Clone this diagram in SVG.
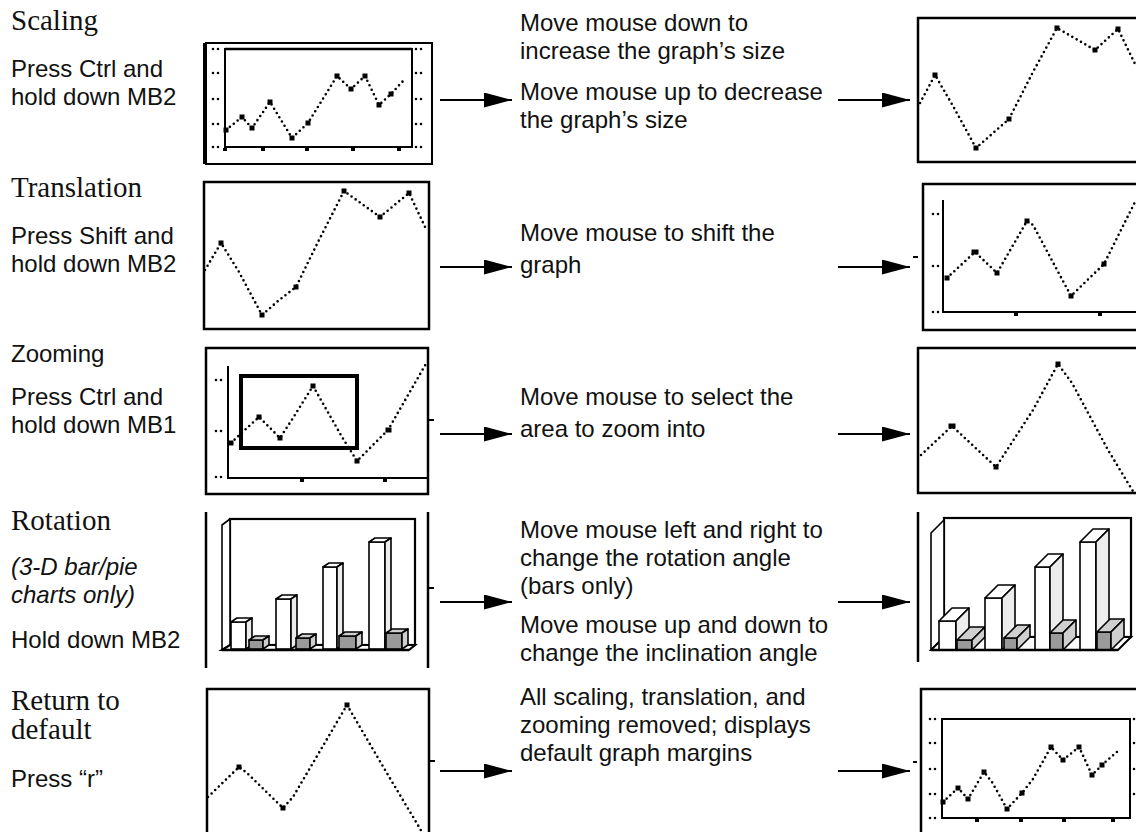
<svg xmlns="http://www.w3.org/2000/svg" width="1136" height="832" viewBox="0 0 1136 832">
<style>
.ttl{font-family:"Liberation Serif","Times New Roman",serif;font-size:29px;fill:#111}
.txt{font-family:"Liberation Sans",Arial,sans-serif;font-size:24px;fill:#111}
.it{font-style:italic}
.fr{fill:none;stroke:#000;stroke-width:2.5}
.ax{fill:none;stroke:#000;stroke-width:2}
.dots{fill:none;stroke:#000;stroke-width:2.6;stroke-dasharray:0 5;stroke-linecap:round;stroke-linejoin:round}
.tk{fill:none;stroke:#000;stroke-width:2.6;stroke-dasharray:0 5;stroke-linecap:round}
.mk{fill:#000}
.w{fill:#fff;stroke:#000;stroke-width:1.6;stroke-linejoin:round}
.ws{fill:#ececec;stroke:#000;stroke-width:1.6;stroke-linejoin:round}
.g{fill:#9a9a9a;stroke:#000;stroke-width:1.6;stroke-linejoin:round}
.gt{fill:#cfcfcf;stroke:#000;stroke-width:1.6;stroke-linejoin:round}
.conn{stroke:#000;stroke-width:2;fill:none}
</style>
<defs>
<marker id="ah" markerUnits="userSpaceOnUse" markerWidth="30" markerHeight="16" refX="28" refY="7.5" orient="auto">
<path d="M0,0 L28,7.5 L0,15 z" fill="#000"/>
</marker>
</defs>

<!-- Row 1: Scaling -->
<g id="scaling-label">
<text class="ttl" x="11" y="30">Scaling</text>
<text class="txt" x="11" y="77">Press Ctrl and</text>
<text class="txt" x="11" y="105">hold down MB2</text>
</g>
<g id="scaling-before">
<line x1="205" y1="43" x2="205" y2="164" stroke="#000" stroke-width="4"/>
<polyline class="ax" points="205,43 432,43 432,164 205,164"/>
<rect class="ax" x="225" y="49" width="187" height="98"/>
<line x1="225" y1="49" x2="412" y2="49" stroke="#000" stroke-width="2.5"/>
<path class="tk" d="M213,49h8M213,73h8M213,99h8M213,124h8M213,147h8M416,49h8M416,73h8M416,99h8M416,124h8M416,147h8"/>
<path class="mk" d="M223,148h4v3h-4zM261,148h4v3h-4zM305,148h4v3h-4zM351,148h4v3h-4zM397,148h4v3h-4z"/>
<polyline class="dots" points="226,130 242,117 252,128 270,102 292,138 308,123 337,76 351,89 365,76 379,105 391,94 404,80"/>
<path class="mk" d="M223.5,127.5h5v5h-5zM239.5,114.5h5v5h-5zM249.5,125.5h5v5h-5zM267.5,99.5h5v5h-5zM289.5,135.5h5v5h-5zM305.5,120.5h5v5h-5zM334.5,73.5h5v5h-5zM348.5,86.5h5v5h-5zM362.5,73.5h5v5h-5zM376.5,102.5h5v5h-5zM388.5,91.5h5v5h-5z"/>
</g>
<g id="scaling-desc">
<text class="txt" x="520" y="31">Move mouse down to</text>
<text class="txt" x="520" y="59">increase the graph’s size</text>
<text class="txt" x="520" y="100">Move mouse up to decrease</text>
<text class="txt" x="520" y="128">the graph’s size</text>
</g>
<g id="scaling-after">
<polyline class="fr" points="1140,18 918,18 918,162 1140,162"/>
<polyline class="dots" points="920,103 935,75 953,106 976,148 992,134 1009,119 1033,72 1057,28 1095,50 1118,29 1136,66"/>
<path class="mk" d="M932.5,72.5h5v5h-5zM973.5,145.5h5v5h-5zM1006.5,116.5h5v5h-5zM1054.5,25.5h5v5h-5zM1092.5,47.5h5v5h-5zM1115.5,26.5h5v5h-5z"/>
</g>

<!-- Row 2: Translation -->
<g id="translation-label">
<text class="ttl" x="11" y="197">Translation</text>
<text class="txt" x="11" y="244">Press Shift and</text>
<text class="txt" x="11" y="272">hold down MB2</text>
</g>
<g id="translation-before">
<rect class="fr" x="204" y="182" width="225" height="147"/>
<polyline class="dots" points="205,270 221,243 239,272 262,315 278,301 296,287 318,242 344,191 380,217 409,193 427,231"/>
<path class="mk" d="M218.5,240.5h5v5h-5zM259.5,312.5h5v5h-5zM293.5,284.5h5v5h-5zM341.5,188.5h5v5h-5zM377.5,214.5h5v5h-5zM406.5,190.5h5v5h-5z"/>
</g>
<g id="translation-desc">
<text class="txt" x="520" y="241">Move mouse to shift the</text>
<text class="txt" x="520" y="273">graph</text>
</g>
<g id="translation-after">
<polyline class="fr" points="1140,184 923,184 923,330 1140,330"/>
<line x1="913" y1="257" x2="918" y2="257" stroke="#000" stroke-width="2"/>
<polyline class="ax" points="943,200 943,312 1140,312"/>
<path class="tk" d="M933,214h8M933,266h8M933,312h8"/>
<path class="mk" d="M1014,313h4v3h-4zM1098,313h4v3h-4z"/>
<polyline class="dots" points="947,278 975,252 997,273 1027,221 1033,225 1071,296 1104,264 1136,200"/>
<path class="mk" d="M944.5,275.5h5v5h-5zM971.5,249.5h7v5h-7zM994.5,270.5h5v5h-5zM1024.5,218.5h5v5h-5zM1068.5,293.5h5v5h-5zM1101.5,261.5h5v5h-5z"/>
</g>

<!-- Row 3: Zooming -->
<g id="zooming-label">
<text class="txt" x="11" y="362">Zooming</text>
<text class="txt" x="11" y="405">Press Ctrl and</text>
<text class="txt" x="11" y="433">hold down MB1</text>
</g>
<g id="zooming-before">
<rect class="fr" x="206" y="348" width="222" height="146"/>
<line x1="428" y1="420" x2="434" y2="420" stroke="#000" stroke-width="2"/>
<polyline class="ax" points="228,366 228,478 428,478"/>
<path class="tk" d="M216,380h8M216,431h8M216,477h8"/>
<path class="mk" d="M300,479h4v3h-4zM383,479h4v3h-4z"/>
<polyline class="dots" points="231,443 247,428 259,417 280,438 293,418 313,386 342,437 357,461 388,430 427,362"/>
<path class="mk" d="M228.5,440.5h5v5h-5zM256.5,414.5h5v5h-5zM277.5,435.5h5v5h-5zM310.5,383.5h5v5h-5zM354.5,458.5h5v5h-5zM385.5,427.5h6v5h-6z"/>
<rect x="241" y="376" width="116" height="72" fill="none" stroke="#000" stroke-width="4"/>
</g>
<g id="zooming-desc">
<text class="txt" x="520" y="405">Move mouse to select the</text>
<text class="txt" x="520" y="437">area to zoom into</text>
</g>
<g id="zooming-after">
<polyline class="fr" points="1140,348 918,348 918,493 1140,493"/>
<polyline class="dots" points="921,455 952,426 996,467 1033,410 1058,364 1072,383 1108,450 1134,493"/>
<path class="mk" d="M948.5,423.5h7v5h-7zM993.5,464.5h5v5h-5zM1055.5,361.5h5v5h-5z"/>
</g>

<!-- Row 4: Rotation -->
<g id="rotation-label">
<text class="ttl" x="11" y="530">Rotation</text>
<text class="txt it" x="11" y="575">(3-D bar/pie</text>
<text class="txt it" x="11" y="603">charts only)</text>
<text class="txt" x="11" y="648">Hold down MB2</text>
</g>
<g id="rotation-before">
<line x1="206" y1="512" x2="206" y2="668" stroke="#000" stroke-width="2.5"/>
<line x1="428" y1="512" x2="428" y2="668" stroke="#000" stroke-width="2.5"/>
<line x1="428" y1="588" x2="434" y2="588" stroke="#000" stroke-width="2"/>
<rect x="230" y="519" width="185" height="126" fill="#fff" stroke="#000" stroke-width="2.2"/>
<polygon class="w" points="222,525 230,519 230,645 222,650"/>
<polygon points="222,650 230,645 415,645 409,650" fill="#fff" stroke="#000" stroke-width="2.2"/>
<rect class="w" x="231" y="622" width="15" height="27"/><polygon class="w" points="231,622 237,618 252,618 246,622"/><polygon class="ws" points="246,622 252,618 252,645 246,649"/>
<rect class="g" x="249" y="640" width="14" height="9"/><polygon class="gt" points="249,640 255,636 269,636 263,640"/><polygon class="gt" points="263,640 269,636 269,645 263,649"/>
<rect class="w" x="276" y="599" width="15" height="50"/><polygon class="w" points="276,599 282,595 297,595 291,599"/><polygon class="ws" points="291,599 297,595 297,645 291,649"/>
<rect class="g" x="296" y="638" width="14" height="11"/><polygon class="gt" points="296,638 302,634 316,634 310,638"/><polygon class="gt" points="310,638 316,634 316,645 310,649"/>
<rect class="w" x="323" y="567" width="14" height="82"/><polygon class="w" points="323,567 329,563 343,563 337,567"/><polygon class="ws" points="337,567 343,563 343,645 337,649"/>
<rect class="g" x="339" y="636" width="17" height="13"/><polygon class="gt" points="339,636 345,632 362,632 356,636"/><polygon class="gt" points="356,636 362,632 362,645 356,649"/>
<rect class="w" x="369" y="542" width="16" height="107"/><polygon class="w" points="369,542 375,538 391,538 385,542"/><polygon class="ws" points="385,542 391,538 391,645 385,649"/>
<rect class="g" x="386" y="633" width="16" height="16"/><polygon class="gt" points="386,633 392,629 408,629 402,633"/><polygon class="gt" points="402,633 408,629 408,645 402,649"/>
<line x1="222" y1="650" x2="409" y2="650" stroke="#000" stroke-width="2.5"/>
</g>
<g id="rotation-desc">
<text class="txt" x="520" y="538">Move mouse left and right to</text>
<text class="txt" x="520" y="566">change the rotation angle</text>
<text class="txt" x="520" y="594">(bars only)</text>
<text class="txt" x="520" y="633">Move mouse up and down to</text>
<text class="txt" x="520" y="661">change the inclination angle</text>
</g>
<g id="rotation-after">
<line x1="918" y1="512" x2="918" y2="662" stroke="#000" stroke-width="2.5"/>
<rect x="944" y="518" width="187" height="119" fill="#fff" stroke="#000" stroke-width="2.2"/>
<polygon class="w" points="931,533 944,520 944,637 931,650"/>
<polygon points="931,650 944,637 1131,637 1118,650" fill="#fff" stroke="#000" stroke-width="2"/>
<rect class="w" x="939" y="621" width="17" height="29"/><polygon class="w" points="939,621 952,608 969,608 956,621"/><polygon class="ws" points="956,621 969,608 969,637 956,650"/>
<rect class="g" x="957" y="640" width="15" height="10"/><polygon class="gt" points="957,640 970,627 985,627 972,640"/><polygon class="gt" points="972,640 985,627 985,637 972,650"/>
<rect class="w" x="985" y="598" width="17" height="52"/><polygon class="w" points="985,598 998,585 1015,585 1002,598"/><polygon class="ws" points="1002,598 1015,585 1015,637 1002,650"/>
<rect class="g" x="1004" y="638" width="13" height="12"/><polygon class="gt" points="1004,638 1017,625 1030,625 1017,638"/><polygon class="gt" points="1017,638 1030,625 1030,637 1017,650"/>
<rect class="w" x="1035" y="567" width="15" height="83"/><polygon class="w" points="1035,567 1048,554 1063,554 1050,567"/><polygon class="ws" points="1050,567 1063,554 1063,637 1050,650"/>
<rect class="g" x="1050" y="633" width="13" height="17"/><polygon class="gt" points="1050,633 1063,620 1076,620 1063,633"/><polygon class="gt" points="1063,633 1076,620 1076,637 1063,650"/>
<rect class="w" x="1080" y="542" width="16" height="108"/><polygon class="w" points="1080,542 1093,529 1109,529 1096,542"/><polygon class="ws" points="1096,542 1109,529 1109,637 1096,650"/>
<rect class="g" x="1097" y="632" width="14" height="18"/><polygon class="gt" points="1097,632 1110,619 1124,619 1111,632"/><polygon class="gt" points="1111,632 1124,619 1124,637 1111,650"/>
<line x1="931" y1="650" x2="1118" y2="650" stroke="#000" stroke-width="2.5"/>
</g>

<!-- Row 5: Return to default -->
<g id="return-label">
<text class="ttl" x="11" y="710">Return to</text>
<text class="ttl" x="11" y="739">default</text>
<text class="txt" x="11" y="787">Press “r”</text>
</g>
<g id="return-before">
<polyline class="fr" points="207,840 207,689 429,689 429,840"/>
<line x1="429" y1="761" x2="435" y2="761" stroke="#000" stroke-width="2"/>
<polyline class="dots" points="208,797 239,767 247,773 283,808 293,797 347,705 388,775 422,832"/>
<path class="mk" d="M236.5,764.5h5v5h-5zM280.5,805.5h5v5h-5zM344.5,702.5h5v5h-5z"/>
</g>
<g id="return-desc">
<text class="txt" x="520" y="705">All scaling, translation, and</text>
<text class="txt" x="520" y="733">zooming removed; displays</text>
<text class="txt" x="520" y="761">default graph margins</text>
</g>
<g id="return-after">
<polyline class="fr" points="921,840 921,689 1140,689"/>
<line x1="913" y1="762" x2="917" y2="762" stroke="#000" stroke-width="2"/>
<rect class="ax" x="942" y="719" width="188" height="99"/>
<path class="tk" d="M930,719h8M930,743h8M930,769h8M930,794h8M930,818h8M1134,719h8M1134,743h8M1134,769h8M1134,794h8"/>
<path class="mk" d="M975,819h4v3h-4zM1019,819h4v3h-4zM1062,819h4v3h-4zM1111,819h4v3h-4z"/>
<polyline class="dots" points="943,802 958,788 968,799 984,772 992,782 1007,809 1022,793 1033,779 1051,747 1063,760 1079,747 1092,775 1102,765 1118,751"/>
<path class="mk" d="M940.5,799.5h5v5h-5zM955.5,785.5h5v5h-5zM965.5,796.5h5v5h-5zM981.5,769.5h5v5h-5zM1004.5,806.5h5v5h-5zM1019.5,790.5h5v5h-5zM1048.5,744.5h5v5h-5zM1060.5,757.5h5v5h-5zM1076.5,744.5h5v5h-5zM1089.5,772.5h5v5h-5zM1099.5,762.5h5v5h-5z"/>
</g>

<g id="connectors">
<line class="conn" x1="440" y1="100" x2="512" y2="100" marker-end="url(#ah)"/>
<line class="conn" x1="838" y1="100" x2="910" y2="100" marker-end="url(#ah)"/>
<line class="conn" x1="440" y1="267" x2="512" y2="267" marker-end="url(#ah)"/>
<line class="conn" x1="838" y1="267" x2="910" y2="267" marker-end="url(#ah)"/>
<line class="conn" x1="440" y1="434" x2="512" y2="434" marker-end="url(#ah)"/>
<line class="conn" x1="838" y1="434" x2="910" y2="434" marker-end="url(#ah)"/>
<line class="conn" x1="440" y1="602" x2="512" y2="602" marker-end="url(#ah)"/>
<line class="conn" x1="838" y1="602" x2="910" y2="602" marker-end="url(#ah)"/>
<line class="conn" x1="440" y1="771" x2="512" y2="771" marker-end="url(#ah)"/>
<line class="conn" x1="838" y1="771" x2="910" y2="771" marker-end="url(#ah)"/>
</g>
</svg>
